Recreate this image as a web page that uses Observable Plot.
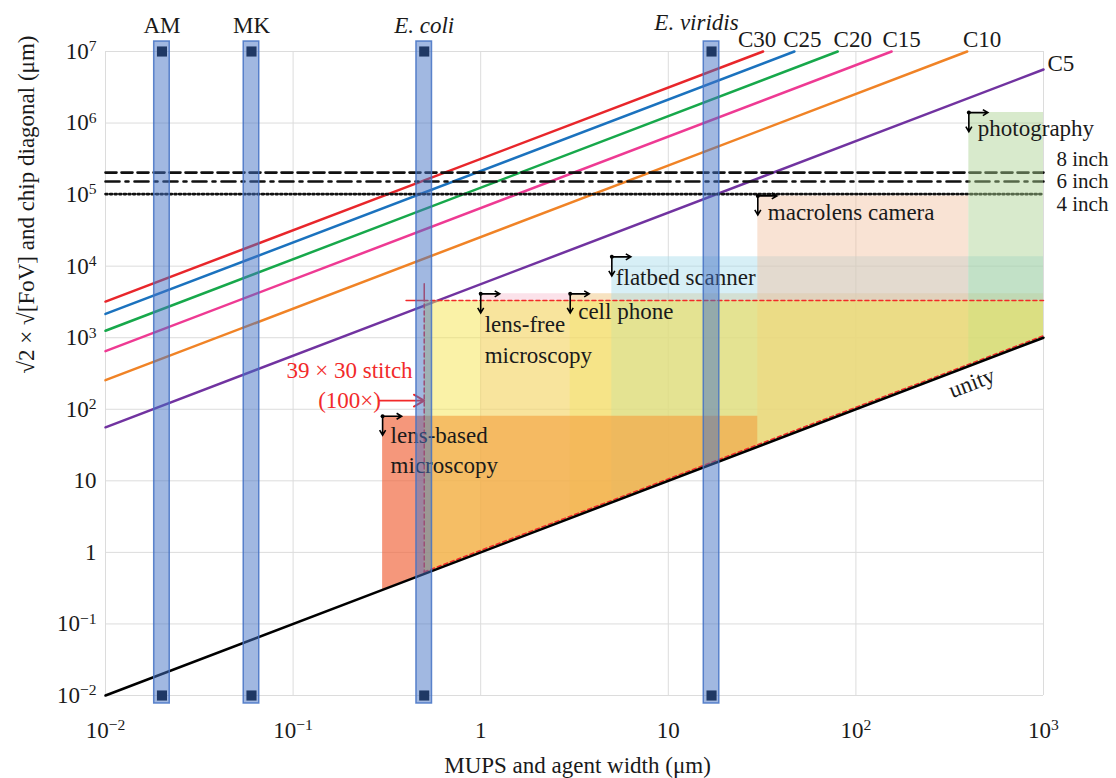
<!DOCTYPE html>
<html><head><meta charset="utf-8">
<script src="https://cdn.jsdelivr.net/npm/d3@7"></script>
<script src="https://cdn.jsdelivr.net/npm/@observablehq/plot@0.6"></script>
<style>body{margin:0;background:#fff} svg{display:block}</style>
</head><body><div id="chart"></div>
<script>
// ---------- data ----------
const xTicks = [0.01, 0.1, 1, 10, 100, 1000];
const yTicks = [0.01, 0.1, 1, 10, 100, 1e3, 1e4, 1e5, 1e6, 1e7];

const curveNames  = ["C30", "C25", "C20", "C15", "C10", "C5"];
const curveStartY = [3200, 2150, 1250, 650, 255, 56];      // value at x = 0.01
const curveEndX   = [32, 47, 80, 155, 392, 1000];
const curveEndY   = [1e7, 1e7, 1e7, 1e7, 1e7, 5.6e6];

const unityX = [0.01, 1000];

const waferNames = ["8 inch", "6 inch", "4 inch"];
const waferDiag  = [203200, 152400, 101600];

const agentNames = ["AM", "MK", "E. coli", "E. viridis"];
const agentWidth = [0.02, 0.06, 0.5, 17];

const regionNames = ["lens-free\nmicroscopy", "cell phone", "flatbed scanner", "macrolens camera", "photography", "lens-based\nmicroscopy"];
const regionMinX  = [1, 3, 5, 30, 400, 0.3];
const regionMaxX  = [1000, 1000, 1000, 400, 1000, 30];
const regionTop   = [4100, 4100, 13500, 96000, 1.4e6, 80];

const stitchMinX = 0.5, stitchMaxX = 1000, stitchTop = 3300;
const stitchLabels = ["39 × 30 stitch", "(100×)"];

// ---------- styles ----------
const FONT = "Liberation Serif";
const TXT = "#1a1a1a";
const RED = "#f22a2a";
const curveColors = ["#e8262b", "#1b72be", "#17a84b", "#ee3a93", "#f08326", "#7133a0"];
const waferDash = ["11,5", "14,6,3,6", "2,2.6"];
const waferDy = [-13, 0, 10];
const curveLabelDx = [-6, 8, 15, 10, 15, 4];
const regionFill = ["#f4a6c0", "#f0e664", "#a6dcec", "#f2c0a0", "#a9d18e", "#f0663c"];
const regionOpacity = [0.33, 0.3, 0.45, 0.45, 0.45, 0.68];
const regionDx = [4, 8, 4, 10, 9, 8];
const regionDy = [17, 4, 7, 3, 2, 5];
const BAR_HALF = 1.1;

function fmt(d) {
  const e = Math.round(Math.log10(d));
  if (e === 0) return "1";
  if (e === 1) return "10";
  return "10^" + (e < 0 ? "\u2212" + (-e) : String(e));
}

const cornerArrow = {
  draw(ctx) {
    const L = 19, h = 5, w = 3;
    ctx.moveTo(0, 0); ctx.lineTo(L, 0);
    ctx.moveTo(L - h, -w); ctx.lineTo(L, 0); ctx.lineTo(L - h, w);
    ctx.moveTo(0, 0); ctx.lineTo(0, L);
    ctx.moveTo(-w, L - h); ctx.lineTo(0, L); ctx.lineTo(w, L - h);
  }
};

// ---------- marks ----------
const marks = [];
marks.push(Plot.gridX(xTicks, {stroke: "#dcdcdc", strokeOpacity: 1, strokeWidth: 1}));
marks.push(Plot.gridY(yTicks, {stroke: "#dcdcdc", strokeOpacity: 1, strokeWidth: 1}));

// camera curves
curveNames.forEach((n, i) => {
  marks.push(Plot.line([{x: 0.01, y: curveStartY[i]}, {x: curveEndX[i], y: curveEndY[i]}],
    {x: "x", y: "y", stroke: curveColors[i], strokeWidth: 2.5}));
});

// wafer lines
waferNames.forEach((n, i) => {
  marks.push(Plot.line([{x: unityX[0], y: waferDiag[i]}, {x: unityX[1], y: waferDiag[i]}],
    {x: "x", y: "y", stroke: "#111", strokeWidth: 2.6, strokeDasharray: waferDash[i]}));
});

// regions
regionNames.forEach((n, i) => {
  marks.push(Plot.area([{x: regionMinX[i], lo: regionMinX[i], hi: regionTop[i]}, {x: regionMaxX[i], lo: regionMaxX[i], hi: regionTop[i]}],
    {x1: "x", y1: "lo", y2: "hi", fill: regionFill[i], fillOpacity: regionOpacity[i]}));
});

// stitch region fill (on top)
marks.push(Plot.area([{x: stitchMinX, lo: stitchMinX, hi: stitchTop}, {x: stitchMaxX, lo: stitchMaxX, hi: stitchTop}],
  {x1: "x", y1: "lo", y2: "hi", fill: "#f5e650", fillOpacity: 0.5}));

// stitch outline
marks.push(Plot.line([{x: stitchMinX, y: stitchMinX}, {x: stitchMinX, y: stitchTop}, {x: stitchMaxX, y: stitchTop}],
  {x: "x", y: "y", stroke: RED, strokeWidth: 1.5, strokeDasharray: "4,3"}));
marks.push(Plot.line([{x: stitchMinX, y: stitchMinX}, {x: stitchMaxX, y: stitchMaxX}],
  {x: "x", y: "y", stroke: RED, strokeWidth: 1.5, strokeDasharray: "4,3", dy: -2}));
marks.push(Plot.line([{x: 0.4, y: stitchTop}, {x: stitchMinX, y: stitchTop}], {x: "x", y: "y", stroke: RED, strokeWidth: 1.5}));
marks.push(Plot.line([{x: stitchMinX, y: 5700}, {x: stitchMinX, y: stitchTop}], {x: "x", y: "y", stroke: RED, strokeWidth: 1.5}));
marks.push(Plot.arrow([0], {x1: () => 0.29, y1: () => 132, x2: () => stitchMinX, y2: () => 132,
  stroke: RED, strokeWidth: 1.8, bend: false, headLength: 10}));
marks.push(Plot.text(stitchLabels, {x: () => 0.2, y: (d, i) => [346, 132][i], text: d => d,
  fill: RED, fontSize: 23, fontFamily: FONT, textAnchor: "middle", lineAnchor: "middle"}));

// unity line
marks.push(Plot.line(unityX.map(x => ({x, y: x})), {x: "x", y: "y", stroke: "#000", strokeWidth: 2.5}));

// region corner arrows
const corners = regionNames.map((n, i) => ({x: regionMinX[i], y: regionTop[i]}));
marks.push(Plot.dot(corners, {x: "x", y: "y", symbol: cornerArrow, r: 3, stroke: "#000", fill: "none", strokeWidth: 1.6}));
marks.push(Plot.dot(corners, {x: "x", y: "y", r: 2, fill: "#000"}));

// region labels
regionNames.forEach((n, i) => {
  marks.push(Plot.text([n], {x: () => regionMinX[i], y: () => regionTop[i], text: d => d,
    textAnchor: "start", lineAnchor: "top", dx: regionDx[i], dy: regionDy[i], lineHeight: 1.32,
    fontSize: 23, fontFamily: FONT, fill: TXT}));
});

// agent bars
const agents = agentNames.map((name, i) => ({name, x: agentWidth[i]}));
marks.push(Plot.rect(agents, {x1: d => d.x / BAR_HALF, x2: d => d.x * BAR_HALF, y1: () => 0.01, y2: () => 1e7,
  insetTop: -10, insetBottom: -8, fill: "#4472c4", fillOpacity: 0.5, stroke: "#4472c4", strokeOpacity: 0.85, strokeWidth: 1.5}));
marks.push(Plot.dot(agents, {x: "x", y: () => 1e7, symbol: "square", r: 5.7, fill: "#1f3864"}));
marks.push(Plot.dot(agents, {x: "x", y: () => 0.01, symbol: "square", r: 5.7, fill: "#1f3864"}));
marks.push(Plot.text(agents.filter(d => !d.name.startsWith("E.")), {x: "x", y: () => 1e7, text: "name", dy: -26, lineAnchor: "middle",
  fontSize: 23, fontFamily: FONT, fill: TXT}));
marks.push(Plot.text(agents.filter(d => d.name === "E. coli"), {x: "x", y: () => 1e7, text: "name", dy: -26, lineAnchor: "middle",
  fontSize: 23, fontFamily: FONT, fill: TXT, fontStyle: "italic"}));
marks.push(Plot.text(agents.filter(d => d.name === "E. viridis"), {x: "x", y: () => 1e7, text: "name", dx: -15, dy: -29, lineAnchor: "middle",
  fontSize: 23, fontFamily: FONT, fill: TXT, fontStyle: "italic"}));

// curve labels
curveNames.forEach((n, i) => {
  const last = i === curveNames.length - 1;
  marks.push(Plot.text([n], {x: () => curveEndX[i], y: () => curveEndY[i], text: d => d,
    textAnchor: last ? "start" : "middle", lineAnchor: "middle", dx: curveLabelDx[i], dy: last ? -6 : -12,
    fontSize: 23, fontFamily: FONT, fill: TXT}));
});

// wafer labels
waferNames.forEach((n, i) => {
  marks.push(Plot.text([n], {x: () => unityX[1], y: () => waferDiag[i], text: d => d, textAnchor: "start",
    lineAnchor: "middle", dx: 13, dy: waferDy[i], fontSize: 21, fontFamily: FONT, fill: TXT}));
});

// unity label
marks.push(Plot.text(["unity"], {x: () => 390, y: () => 390, text: d => d, rotate: -20.9, dx: 5, dy: 16,
  lineAnchor: "middle", fontSize: 23, fontFamily: FONT, fill: TXT}));

// axis titles
marks.push(Plot.text(["\u221A2 \u00D7 \u221A[FoV] and chip diagonal (\u03BCm)"], {frameAnchor: "left", dx: -79, rotate: -90,
  text: d => d, lineAnchor: "middle", fontSize: 23, fontFamily: FONT, fill: TXT}));
marks.push(Plot.text(["MUPS and agent width (\u03BCm)"], {frameAnchor: "bottom", dy: 70, dx: 3,
  text: d => d, lineAnchor: "middle", fontSize: 23, fontFamily: FONT, fill: TXT}));

// axes
marks.push(Plot.axisX(xTicks, {tickSize: 0, tickPadding: 26, tickFormat: fmt, fontSize: 23, fontFamily: FONT, fill: TXT, label: null}));
marks.push(Plot.axisY(yTicks, {tickSize: 0, tickPadding: 9, tickFormat: fmt, fontSize: 23, fontFamily: FONT, fill: TXT, label: null}));

const chart = Plot.plot({
  width: 1116, height: 778,
  marginLeft: 105, marginRight: 73, marginTop: 51, marginBottom: 83,
  x: {type: "log", domain: [0.01, 1000]},
  y: {type: "log", domain: [0.01, 1e7]},
  style: {fontFamily: FONT, fontSize: "23px", background: "white", overflow: "visible"},
  marks
});

// superscripts in tick labels
d3.select(chart).selectAll('g[aria-label$="tick label"] text').each(function () {
  const t = this.textContent;
  if (t.includes("^")) {
    const [base, exp] = t.split("^");
    const s = d3.select(this);
    s.text(base);
    s.append("tspan").attr("dy", "-0.48em").attr("font-size", "0.68em").text(exp);
  }
});

document.getElementById("chart").appendChild(chart);
</script></body></html>
